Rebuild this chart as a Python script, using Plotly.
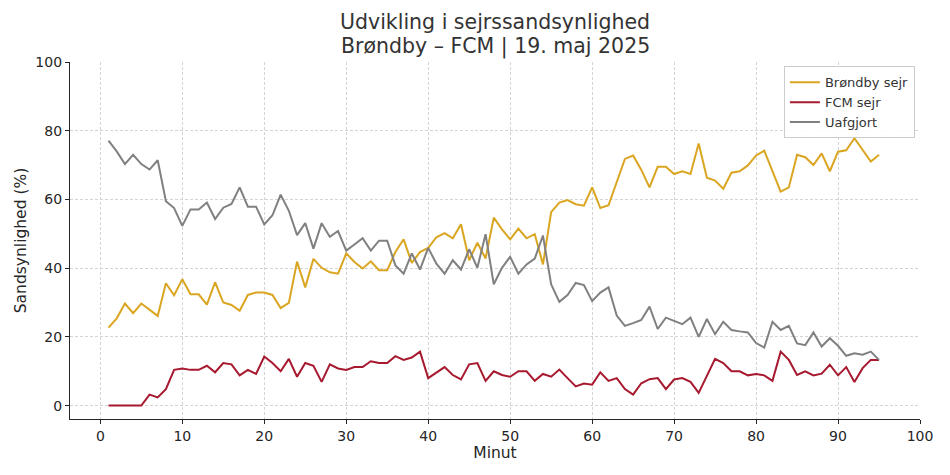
import plotly.graph_objects as go

minutes = list(range(1, 96))

brondby = [22.7, 25.4, 29.7, 26.9, 29.7, 28.0, 26.1, 35.6, 32.1, 36.8,
           32.4, 32.4, 29.4, 35.9, 30.0, 29.3, 27.6, 32.2, 32.9, 32.9,
           32.2, 28.4, 29.9, 41.9, 34.4, 42.7, 40.1, 38.8, 38.4, 44.3,
           41.8, 39.9, 42.0, 39.4, 39.4, 44.7, 48.4, 41.5, 44.7, 45.9,
           49.0, 50.2, 48.7, 52.8, 42.3, 47.4, 42.8, 54.7, 51.3, 48.4,
           51.5, 48.7, 49.9, 41.1, 56.3, 59.1, 59.8, 58.6, 58.2, 63.5,
           57.5, 58.3, 65.2, 71.8, 72.8, 68.6, 63.5, 69.5, 69.5, 67.4,
           68.2, 67.4, 76.3, 66.3, 65.5, 63.1, 67.8, 68.2, 69.9, 72.8,
           74.2, 68.2, 62.3, 63.5, 73.0, 72.3, 70.0, 73.4, 68.2, 73.9,
           74.3, 77.8, 74.4, 71.0, 73.0]

fcm = [0.0, 0.0, 0.0, 0.0, 0.0, 3.2, 2.4, 4.8, 10.4, 10.8,
       10.4, 10.4, 11.6, 9.7, 12.4, 12.0, 8.8, 10.4, 9.2, 14.3,
       12.4, 10.0, 13.6, 8.4, 12.4, 11.6, 6.9, 12.0, 10.8, 10.4,
       11.2, 11.2, 12.9, 12.4, 12.4, 14.4, 13.3, 14.0, 15.7, 8.0,
       9.6, 11.2, 8.9, 7.6, 12.0, 12.4, 7.2, 10.0, 8.9, 8.4,
       10.0, 10.0, 7.2, 9.2, 8.4, 10.5, 8.0, 5.6, 6.4, 6.1,
       9.7, 7.2, 8.0, 4.8, 3.2, 6.5, 7.7, 8.0, 4.8, 7.6,
       8.0, 6.9, 3.7, 8.7, 13.6, 12.4, 10.0, 10.0, 8.8, 9.2,
       8.8, 7.2, 15.7, 13.3, 8.9, 10.0, 8.8, 9.3, 11.9, 8.8,
       11.2, 6.9, 10.9, 13.3, 13.3]

uafgjort = [77.1, 74.0, 70.3, 73.0, 70.3, 68.7, 71.4, 59.5, 57.5, 52.3,
            57.1, 57.1, 59.1, 54.3, 57.6, 58.7, 63.5, 57.9, 57.9, 52.7,
            55.4, 61.4, 56.7, 49.6, 53.1, 45.7, 53.1, 49.1, 50.8, 45.1,
            46.9, 48.7, 45.1, 48.0, 48.0, 40.8, 38.4, 44.3, 39.6, 45.9,
            41.3, 38.4, 42.3, 39.6, 45.5, 40.1, 49.9, 35.3, 40.1, 43.3,
            38.4, 41.1, 42.8, 49.5, 35.3, 30.2, 32.2, 35.7, 35.1, 30.4,
            32.9, 34.4, 26.2, 23.2, 24.0, 24.9, 28.8, 22.3, 25.6, 24.7,
            23.7, 25.6, 20.0, 25.2, 20.8, 24.4, 22.0, 21.6, 21.3, 18.2,
            16.9, 24.4, 22.0, 23.2, 18.1, 17.6, 21.3, 17.2, 19.6, 17.4,
            14.5, 15.2, 14.8, 15.7, 13.3]

title_lines = ["Udvikling i sejrssandsynlighed", "Brøndby – FCM | 19. maj 2025"]

series = [("Brøndby sejr", brondby, "#DAA520"),
          ("FCM sejr", fcm, "#A6192E"),
          ("Uafgjort", uafgjort, "#808080")]

fig = go.Figure()
for name, vals, col in series:
    fig.add_trace(go.Scatter(x=minutes, y=vals, mode="lines", name=name,
                             line=dict(color=col, width=2)))

font_family = "DejaVu Sans"
txt = "#262626"
top, bottom, H = 62, 56, 475
plot_h = H - top - bottom


def paper_y(px):
    return 1 + (top - px) / plot_h


for line, ypx in zip(title_lines, [22.5, 47]):
    fig.add_annotation(text=line, xref="paper", yref="paper", x=0.5, y=paper_y(ypx),
                       xanchor="center", yanchor="middle", showarrow=False,
                       font=dict(size=20.5, color="#333333"))

fig.update_layout(
    width=950, height=475,
    margin=dict(l=70, r=30, t=top, b=bottom),
    paper_bgcolor="white", plot_bgcolor="white",
    font=dict(family=font_family, size=14, color=txt),
    legend=dict(x=0.994, y=0.988, xanchor="right", yanchor="top",
                bgcolor="rgba(255,255,255,0.9)", bordercolor="#cccccc", borderwidth=1,
                itemwidth=30, tracegroupgap=0,
                font=dict(size=13, color="#333333")),
    showlegend=True,
)
fig.update_xaxes(range=[-3.7, 100], tickvals=list(range(0, 101, 10)),
                 title=dict(text="Minut", standoff=3, font=dict(size=15.5)),
                 showline=True, linecolor="#262626", linewidth=1.2,
                 ticks="outside", ticklen=4, tickcolor="#262626",
                 showgrid=True, gridcolor="#d4d4d4", griddash="3px,2px", gridwidth=0.8,
                 zeroline=False, mirror=False)
fig.update_yaxes(range=[-3.9, 100], tickvals=list(range(0, 101, 20)),
                 title=dict(text="Sandsynlighed (%)", standoff=4, font=dict(size=15.5)),
                 showline=True, linecolor="#262626", linewidth=1.2,
                 ticks="outside", ticklen=4, tickcolor="#262626",
                 showgrid=True, gridcolor="#d4d4d4", griddash="3px,2px", gridwidth=0.8,
                 zeroline=False, mirror=False)

fig.write_html("out.html")
